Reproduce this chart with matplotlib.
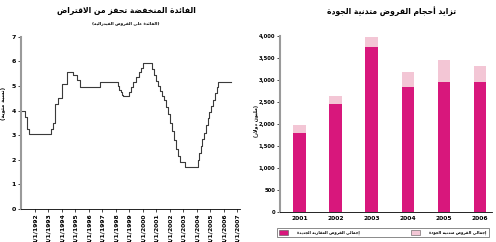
import matplotlib
matplotlib.use('Agg', force=True)

import numpy as np
import matplotlib.pyplot as plt
from matplotlib.patches import Patch
from matplotlib.ticker import FuncFormatter

plt.rcParams['font.family'] = ['DejaVu Sans']

# ================= 简易阿拉伯文字形处理 =================
# 字母 -> (孤立, 词尾, 词首, 词中) 展示形
_FORMS = {
    'ء': (0xFE80,), 'آ': (0xFE81, 0xFE82), 'أ': (0xFE83, 0xFE84),
    'ؤ': (0xFE85, 0xFE86), 'إ': (0xFE87, 0xFE88), 'ئ': (0xFE89, 0xFE8A, 0xFE8B, 0xFE8C),
    'ا': (0xFE8D, 0xFE8E), 'ب': (0xFE8F, 0xFE90, 0xFE91, 0xFE92), 'ة': (0xFE93, 0xFE94),
    'ت': (0xFE95, 0xFE96, 0xFE97, 0xFE98), 'ث': (0xFE99, 0xFE9A, 0xFE9B, 0xFE9C),
    'ج': (0xFE9D, 0xFE9E, 0xFE9F, 0xFEA0), 'ح': (0xFEA1, 0xFEA2, 0xFEA3, 0xFEA4),
    'خ': (0xFEA5, 0xFEA6, 0xFEA7, 0xFEA8), 'د': (0xFEA9, 0xFEAA), 'ذ': (0xFEAB, 0xFEAC),
    'ر': (0xFEAD, 0xFEAE), 'ز': (0xFEAF, 0xFEB0), 'س': (0xFEB1, 0xFEB2, 0xFEB3, 0xFEB4),
    'ش': (0xFEB5, 0xFEB6, 0xFEB7, 0xFEB8), 'ص': (0xFEB9, 0xFEBA, 0xFEBB, 0xFEBC),
    'ض': (0xFEBD, 0xFEBE, 0xFEBF, 0xFEC0), 'ط': (0xFEC1, 0xFEC2, 0xFEC3, 0xFEC4),
    'ظ': (0xFEC5, 0xFEC6, 0xFEC7, 0xFEC8), 'ع': (0xFEC9, 0xFECA, 0xFECB, 0xFECC),
    'غ': (0xFECD, 0xFECE, 0xFECF, 0xFED0), 'ف': (0xFED1, 0xFED2, 0xFED3, 0xFED4),
    'ق': (0xFED5, 0xFED6, 0xFED7, 0xFED8), 'ك': (0xFED9, 0xFEDA, 0xFEDB, 0xFEDC),
    'ل': (0xFEDD, 0xFEDE, 0xFEDF, 0xFEE0), 'م': (0xFEE1, 0xFEE2, 0xFEE3, 0xFEE4),
    'ن': (0xFEE5, 0xFEE6, 0xFEE7, 0xFEE8), 'ه': (0xFEE9, 0xFEEA, 0xFEEB, 0xFEEC),
    'و': (0xFEED, 0xFEEE), 'ى': (0xFEEF, 0xFEF0), 'ي': (0xFEF1, 0xFEF2, 0xFEF3, 0xFEF4),
}
_LAM_ALEF = {'ا': (0xFEFB, 0xFEFC), 'أ': (0xFEF7, 0xFEF8),
             'إ': (0xFEF9, 0xFEFA), 'آ': (0xFEF5, 0xFEF6)}
_MIRROR = {'(': ')', ')': '('}


def shape_ar(text):
    """把阿拉伯文转换成连写展示形并按视觉顺序排列"""
    chars = []
    i = 0
    while i < len(text):
        c = text[i]
        if c == 'ل' and i + 1 < len(text) and text[i + 1] in _LAM_ALEF:
            chars.append(('LA', text[i + 1]))
            i += 2
        else:
            chars.append(('C', c))
            i += 1

    def dual(item):
        k, c = item
        return k == 'C' and c in _FORMS and len(_FORMS[c]) == 4

    def letter(item):
        k, c = item
        return k == 'LA' or c in _FORMS

    out = []
    for j, item in enumerate(chars):
        prev_join = j > 0 and dual(chars[j - 1]) and letter(item)
        kind, c = item
        if kind == 'LA':
            out.append(chr(_LAM_ALEF[c][1 if prev_join else 0]))
            continue
        if c not in _FORMS:
            out.append(_MIRROR.get(c, c))
            continue
        forms = _FORMS[c]
        next_join = (len(forms) == 4 and j + 1 < len(chars) and letter(chars[j + 1]))
        if len(forms) == 1:
            idx = 0
        elif prev_join and next_join:
            idx = 3
        elif prev_join:
            idx = 1
        elif next_join:
            idx = 2
        else:
            idx = 0
        out.append(chr(forms[idx]))
    return ''.join(reversed(out))


# ================= 数据 =================
# 左图: 联邦基金利率 (年份小数, 百分比)
rate_dates = [1990.96, 1991.26, 1991.39, 1991.56, 1993.16, 1993.33, 1993.48, 1993.70,
              1993.98, 1994.35, 1994.79, 1995.11, 1995.37, 1996.81, 1998.17, 1998.25,
              1998.35, 1998.45, 1998.54, 1998.95, 1999.10, 1999.30, 1999.50, 1999.70,
              1999.85, 2000.02, 2000.69, 2000.80, 2000.95, 2001.10, 2001.25, 2001.40,
              2001.55, 2001.70, 2001.85, 2002.00, 2002.15, 2002.30, 2002.45, 2002.60,
              2002.74, 2003.11, 2004.10, 2004.18, 2004.30, 2004.42, 2004.55, 2004.68,
              2004.81, 2004.94, 2005.07, 2005.21, 2005.33, 2005.46, 2005.58, 2006.52]
rate_values = [4.0, 3.75, 3.25, 3.05, 3.25, 3.5, 4.25, 4.5,
               5.1, 5.57, 5.45, 5.25, 4.97, 5.17, 5.0, 4.85,
               4.75, 4.65, 4.6, 4.75, 4.95, 5.15, 5.35, 5.55,
               5.75, 5.93, 5.7, 5.45, 5.2, 5.0, 4.8, 4.6,
               4.43, 4.15, 3.85, 3.5, 3.15, 2.8, 2.45, 2.15,
               1.92, 1.7, 2.0, 2.25, 2.55, 2.85, 3.1, 3.42,
               3.7, 3.95, 4.2, 4.43, 4.7, 4.95, 5.16, 5.16]
year_ticks = list(range(1992, 2008))
year_labels = ['1/1/%d' % y for y in year_ticks]

# 右图: 贷款规模 (百万美元)
years = ['2001', '2002', '2003', '2004', '2005', '2006']
new_mortgages = [1800, 2450, 3750, 2850, 2950, 2950]
subprime = [180, 180, 230, 330, 500, 370]

c_dark = '#d8177c'
c_light = '#f3c6d5'

# ================= 绘图 =================
fig = plt.figure(figsize=(4.96, 2.42), dpi=100)

# ----- 左图 -----
ax1 = fig.add_axes([0.0423, 0.1376, 0.4415, 0.71])
ax1.plot(rate_dates, rate_values, drawstyle='steps-post', color='#3a3a3a', linewidth=0.8)
ax1.set_xlim(1990.96, 2007.2)
ax1.set_ylim(0, 7)
ax1.set_yticks(range(0, 8))
ax1.set_xticks(year_ticks)
ax1.set_xticklabels(year_labels, rotation=90, fontsize=4.3, fontweight='bold')
ax1.tick_params(axis='y', labelsize=4.5, length=2, width=0.5, pad=1.5)
ax1.tick_params(axis='x', length=2, width=0.5, pad=1.5)
for lbl in ax1.get_yticklabels():
    lbl.set_fontweight('bold')
ax1.spines['top'].set_visible(False)
ax1.spines['right'].set_visible(False)
ax1.spines['left'].set_color('#9a9a9a')
ax1.spines['left'].set_linewidth(1.5)
ax1.spines['bottom'].set_linewidth(0.6)
ax1.set_ylabel(shape_ar('(نسبة مئوية)'), fontsize=3.8, fontweight='bold')
ax1.yaxis.set_label_coords(-0.068, 0.61)

fig.text(0.254, 0.955, shape_ar('الفائدة المنخفضة تحفز من الاقتراض'),
         ha='center', va='center', fontsize=5.5, fontweight='bold')
fig.text(0.254, 0.905, shape_ar('(الفائدة على القروض الفيدرالية)'),
         ha='center', va='center', fontsize=3.0, fontweight='bold')

# ----- 右图 -----
ax2 = fig.add_axes([0.5645, 0.124, 0.4274, 0.727])
x = np.arange(len(years))
ax2.bar(x, new_mortgages, width=0.345, color=c_dark)
ax2.bar(x, subprime, width=0.345, bottom=new_mortgages, color=c_light)
ax2.set_xlim(-0.547, 5.34)
ax2.set_ylim(0, 4000)
ax2.set_yticks(range(0, 4001, 500))
ax2.yaxis.set_major_formatter(FuncFormatter(lambda v, p: '{:,.0f}'.format(v)))
ax2.set_xticks(x)
ax2.set_xticklabels(years, fontsize=4.3, fontweight='bold')
ax2.tick_params(axis='y', labelsize=3.8, length=2, width=0.5, pad=1.5)
ax2.tick_params(axis='x', length=0, pad=3)
for lbl in ax2.get_yticklabels():
    lbl.set_fontweight('bold')
ax2.spines['top'].set_visible(False)
ax2.spines['right'].set_visible(False)
ax2.spines['left'].set_color('#9a9a9a')
ax2.spines['left'].set_linewidth(1.5)
ax2.spines['bottom'].set_linewidth(0.6)
ax2.set_ylabel(shape_ar('(مليون دولار)'), fontsize=3.5, fontweight='bold')
ax2.yaxis.set_label_coords(-0.1, 0.52)

fig.text(0.79, 0.955, shape_ar('تزايد أحجام القروض متدنية الجودة'),
         ha='center', va='center', fontsize=5.5, fontweight='bold')

handles = [Patch(facecolor=c_dark, edgecolor='#555555', linewidth=0.4),
           Patch(facecolor=c_light, edgecolor='#555555', linewidth=0.4)]
labels = [shape_ar('إجمالي القروض العقارية الجديدة'), shape_ar('إجمالي القروض متدنية الجودة')]
leg = fig.legend(handles, labels, loc='lower left', bbox_to_anchor=(0.558, 0.02),
                 ncol=2, fontsize=2.8, frameon=True, fancybox=False,
                 columnspacing=13.0, handlelength=2.4, handleheight=1.5,
                 handletextpad=2.3, borderpad=0.6, borderaxespad=0)
leg.get_frame().set_edgecolor('#333333')
leg.get_frame().set_linewidth(0.5)
for t in leg.get_texts():
    t.set_fontweight('bold')

fig.savefig('out.png', dpi=100)
